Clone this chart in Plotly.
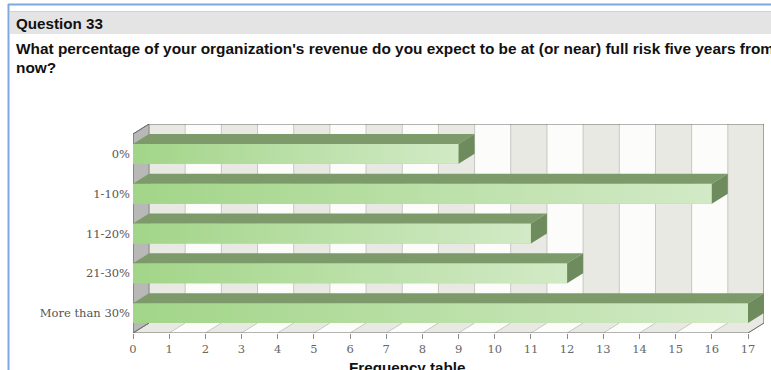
import plotly.graph_objects as go

# Survey answers (Question 33) and how many respondents chose each one
categories = ["0%", "1-10%", "11-20%", "21-30%", "More than 30%"]
counts = [9, 16, 11, 12, 17]
x_ticks = list(range(0, 18))

question_id = "Question 33"
question_line1 = ("What percentage of your organization's revenue do you expect to be at "
                  "(or near) full risk five years from")
question_line2 = "now?"
axis_title = "Frequency table"

# Page geometry (pixels)
FIG_W, FIG_H = 771, 370
PLOT_L, PLOT_R, PLOT_T, PLOT_B = 133, 764, 124, 333
DEPTH_X_PX, DEPTH_Y_PX = 16, 10          # 3-D offset of the back wall

x_max = x_ticks[-1]
n_cat = len(categories)
px_per_x = (PLOT_R - PLOT_L - DEPTH_X_PX) / x_max
px_per_y = (PLOT_B - PLOT_T - DEPTH_Y_PX) / n_cat
DX = DEPTH_X_PX / px_per_x
DY = DEPTH_Y_PX / px_per_y
HALF = 0.25                                # half thickness of a bar

Y_FRONT_TOP, Y_FRONT_BOT = -0.5, n_cat - 0.5
Y_BACK_TOP, Y_BACK_BOT = Y_FRONT_TOP - DY, Y_FRONT_BOT - DY

BAND_GREY = "#e9e9e4"
BAND_WHITE = "#fcfcfb"
GRID = "#c6c6c2"
FRAME = "#6c6c6c"
FRONT_LEFT = "#a2d588"
FRONT_RIGHT = "#d2eac6"
TOP_FACE = "#7c9a6a"
SIDE_FACE = "#6d8b5d"

TITLE_FONT = "Liberation Sans"


def pxx(x):
    return (x - PLOT_L) / (PLOT_R - PLOT_L)


def pxy(y):
    return (PLOT_B - y) / (PLOT_B - PLOT_T)


def poly(points):
    return "M " + " L ".join(f"{a},{b}" for a, b in points) + " Z"


shapes = []

# back wall with alternating bands, and the floor in front of it
for k in range(x_max):
    col = BAND_GREY if k % 2 == 0 else BAND_WHITE
    shapes.append(dict(type="rect", xref="x", yref="y", layer="below",
                       x0=k + DX, x1=k + 1 + DX, y0=Y_BACK_TOP, y1=Y_BACK_BOT,
                       fillcolor=col, line=dict(width=0)))
    shapes.append(dict(type="path", xref="x", yref="y", layer="below",
                       path=poly([(k, Y_FRONT_BOT), (k + DX, Y_BACK_BOT),
                                  (k + 1 + DX, Y_BACK_BOT), (k + 1, Y_FRONT_BOT)]),
                       fillcolor=col, line=dict(width=0)))

# grid lines on the back wall and across the floor
for k in x_ticks:
    shapes.append(dict(type="line", xref="x", yref="y", layer="below",
                       x0=k + DX, x1=k + DX, y0=Y_BACK_TOP, y1=Y_BACK_BOT,
                       line=dict(color=GRID, width=1)))
    shapes.append(dict(type="line", xref="x", yref="y", layer="below",
                       x0=k, x1=k + DX, y0=Y_FRONT_BOT, y1=Y_BACK_BOT,
                       line=dict(color=GRID, width=1)))

# left side wall
shapes.append(dict(type="path", xref="x", yref="y", layer="below",
                   path=poly([(0, Y_FRONT_TOP), (DX, Y_BACK_TOP),
                              (DX, Y_BACK_BOT), (0, Y_FRONT_BOT)]),
                   fillcolor="#b8b8b6", line=dict(color="#8a8a8a", width=1)))

# outline of the box
frame_lines = [
    ((DX, Y_BACK_TOP), (x_max + DX, Y_BACK_TOP)),
    ((x_max + DX, Y_BACK_TOP), (x_max + DX, Y_BACK_BOT)),
    ((0, Y_FRONT_TOP), (0, Y_FRONT_BOT)),
    ((0, Y_FRONT_BOT), (x_max, Y_FRONT_BOT)),
    ((0, Y_FRONT_TOP), (DX, Y_BACK_TOP)),
    ((0, Y_FRONT_BOT), (DX, Y_BACK_BOT)),
    ((x_max, Y_FRONT_BOT), (x_max + DX, Y_BACK_BOT)),
]
for (a, b), (c, d) in frame_lines:
    shapes.append(dict(type="line", xref="x", yref="y", layer="below",
                       x0=a, y0=b, x1=c, y1=d, line=dict(color=FRAME, width=1)))

# page chrome: blue frame and the grey question header
shapes += [
    dict(type="rect", xref="paper", yref="paper", x0=pxx(10), x1=pxx(771),
         y0=pxy(34), y1=pxy(11), fillcolor="#e4e4e4", line=dict(width=0), layer="below"),
    dict(type="line", xref="paper", yref="paper", x0=pxx(10), x1=pxx(771),
         y0=pxy(11.5), y1=pxy(11.5), line=dict(color="#d2d2d2", width=1)),
    dict(type="line", xref="paper", yref="paper", x0=pxx(8), x1=pxx(771),
         y0=pxy(4.5), y1=pxy(4.5), line=dict(color="#7ea8de", width=2)),
    dict(type="line", xref="paper", yref="paper", x0=pxx(8.5), x1=pxx(8.5),
         y0=pxy(4), y1=pxy(FIG_H), line=dict(color="#7ea8de", width=2)),
]

fig = go.Figure()

# front faces of the bars
fig.add_trace(go.Bar(x=counts, y=list(range(n_cat)), orientation="h", width=2 * HALF,
                     marker=dict(color=FRONT_LEFT, line=dict(width=0)),
                     hoverinfo="skip", showlegend=False))

for i, v in enumerate(counts):
    yt, yb = i - HALF, i + HALF
    # gradient over the front face
    fig.add_trace(go.Scatter(
        x=[0, v, v, 0, 0], y=[yt, yt, yb, yb, yt], mode="lines", fill="toself",
        line=dict(width=0), fillcolor=FRONT_LEFT,
        fillgradient=dict(type="horizontal", start=0, stop=v,
                          colorscale=[[0, FRONT_LEFT], [1, FRONT_RIGHT]]),
        hoverinfo="skip", showlegend=False))
    # top face
    fig.add_trace(go.Scatter(
        x=[0, v, v + DX, DX, 0], y=[yt, yt, yt - DY, yt - DY, yt], mode="lines",
        fill="toself", fillcolor=TOP_FACE, line=dict(width=0),
        hoverinfo="skip", showlegend=False))
    # end face
    fig.add_trace(go.Scatter(
        x=[v, v + DX, v + DX, v, v], y=[yt, yt - DY, yb - DY, yb, yt], mode="lines",
        fill="toself", fillcolor=SIDE_FACE, line=dict(width=0),
        hoverinfo="skip", showlegend=False))


def title_font(size):
    return dict(family=TITLE_FONT, size=size, color="#111111")


annotations = [
    dict(text=f"<b>{question_id}</b>", xref="paper", yref="paper", x=pxx(14), y=pxy(23),
         xanchor="left", yanchor="middle", showarrow=False, font=title_font(15.2)),
    dict(text=f"<b>{question_line1}</b>", xref="paper", yref="paper", x=pxx(14), y=pxy(48),
         xanchor="left", yanchor="middle", showarrow=False, font=title_font(15.4)),
    dict(text=f"<b>{question_line2}</b>", xref="paper", yref="paper", x=pxx(14), y=pxy(67),
         xanchor="left", yanchor="middle", showarrow=False, font=title_font(15.4)),
    dict(text=f"<b>{axis_title}</b>", xref="paper", yref="paper", x=pxx(407), y=pxy(367),
         xanchor="center", yanchor="middle", showarrow=False, font=title_font(15.2)),
]

fig.update_layout(
    width=FIG_W, height=FIG_H,
    margin=dict(l=PLOT_L, r=FIG_W - PLOT_R, t=PLOT_T, b=FIG_H - PLOT_B, pad=0),
    paper_bgcolor="white", plot_bgcolor="white",
    shapes=shapes, annotations=annotations, showlegend=False,
    xaxis=dict(range=[0, x_max + DX], tickvals=x_ticks, ticks="outside", ticklen=5,
               tickcolor="#8a8a8a", showgrid=False, zeroline=False, showline=False,
               tickfont=dict(family="DejaVu Serif", size=11.5, color="#666666"),
               fixedrange=True),
    yaxis=dict(range=[Y_FRONT_BOT, Y_BACK_TOP], tickvals=list(range(n_cat)),
               ticktext=categories, ticks="", showgrid=False, zeroline=False,
               showline=False, ticklabelstandoff=2,
               tickfont=dict(family="DejaVu Serif", size=11.5, color="#555555"),
               fixedrange=True),
)

fig.write_html("out.html")
